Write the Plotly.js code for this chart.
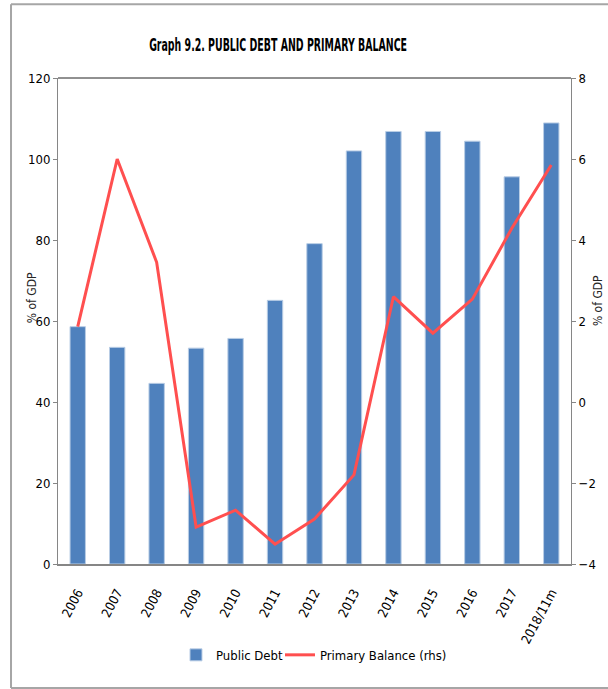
<!DOCTYPE html>
<html>
<head>
<meta charset="utf-8">
<script src="https://cdn.plot.ly/plotly-3.0.1.min.js"></script>
<style>html,body{margin:0;padding:0;background:#fff;}#chart{width:608px;height:689px;}</style>
</head>
<body>
<div id="chart"></div>
<script>
const years = ["2006","2007","2008","2009","2010","2011","2012","2013","2014","2015","2016","2017","2018/11m"];
const publicDebt = [58.6, 53.5, 44.6, 53.3, 55.7, 65.1, 79.1, 102.0, 106.8, 106.8, 104.4, 95.6, 108.9];
const primaryBalance = [1.86, 6.0, 3.45, -3.09, -2.67, -3.51, -2.89, -1.80, 2.60, 1.70, 2.54, 4.29, 5.85];
const leftTicks = [0, 20, 40, 60, 80, 100, 120];
const rightTicks = [-4, -2, 0, 2, 4, 6, 8];

const narrow = "Liberation Sans Narrow, DejaVu Sans Condensed, Arial Narrow, sans-serif";

const traces = [
  {
    type: "bar", name: "Public Debt", x: years, y: publicDebt,
    marker: {color: "#4F81BD", line: {color: "#B9CDE5", width: 1}},
    yaxis: "y", legend: "legend"
  },
  {
    type: "scatter", mode: "lines", name: "Primary Balance (rhs)", x: years, y: primaryBalance,
    line: {color: "#FF4F4F", width: 3},
    yaxis: "y2", legend: "legend2"
  }
];

const legendFont = {family: narrow, size: 13, color: "#000"};

const layout = {
  width: 608, height: 689,
  margin: {l: 58, r: 37, t: 78, b: 125},
  paper_bgcolor: "#fff", plot_bgcolor: "#fff",
  showlegend: true,
  title: {
    text: "<b>Graph 9.2. PUBLIC DEBT AND PRIMARY BALANCE</b>",
    font: {family: narrow, size: 18, color: "#000"},
    xref: "paper", x: 0.429, xanchor: "center",
    yref: "container", y: 0.935, yanchor: "middle"
  },
  bargap: 0.61,
  xaxis: {
    type: "category", tickangle: -62, showgrid: false, zeroline: false,
    showline: true, linecolor: "#868686", linewidth: 2,
    ticks: "", ticklabelstandoff: 14,
    tickfont: {family: narrow, size: 13, color: "#000"}
  },
  yaxis: {
    range: [0, 120], tickvals: leftTicks, showgrid: false, zeroline: false,
    showline: true, linecolor: "#868686", linewidth: 1,
    ticks: "outside", ticklen: 4, tickcolor: "#868686",
    tickfont: {family: narrow, size: 13, color: "#000"}
  },
  yaxis2: {
    range: [-4, 8], tickvals: rightTicks, overlaying: "y", side: "right",
    showgrid: false, zeroline: false,
    showline: true, linecolor: "#868686", linewidth: 1,
    ticks: "outside", ticklen: 4, tickcolor: "#868686",
    tickfont: {family: narrow, size: 13, color: "#000"}
  },
  legend: {
    orientation: "h", x: 0.23, xanchor: "left", y: -0.187, yanchor: "middle",
    font: legendFont, bgcolor: "rgba(0,0,0,0)"
  },
  legend2: {
    orientation: "h", x: 0.4327, xanchor: "left", y: -0.187, yanchor: "middle",
    font: legendFont, bgcolor: "rgba(0,0,0,0)"
  },
  annotations: [
    {text: "% of GDP", xref: "paper", yref: "paper", x: -0.0507, y: 0.549, showarrow: false,
     textangle: -90, font: {family: "DejaVu Sans Condensed, DejaVu Sans, sans-serif", size: 12, color: "#262626"},
     xanchor: "center", yanchor: "middle"},
    {text: "% of GDP", xref: "paper", yref: "paper", x: 1.0526, y: 0.543, showarrow: false,
     textangle: -90, font: {family: "DejaVu Sans Condensed, DejaVu Sans, sans-serif", size: 12, color: "#262626"},
     xanchor: "center", yanchor: "middle"}
  ],
  shapes: [
    {type: "line", xref: "paper", yref: "paper", x0: 0, x1: 1, y0: 1, y1: 1, line: {color: "#222", width: 1}},
    {type: "line", xref: "paper", yref: "paper", x0: -0.0916, x1: -0.0916, y0: -0.255, y1: 1.152, line: {color: "#A6A6A6", width: 2}},
    {type: "line", xref: "paper", yref: "paper", x0: -0.0916, x1: 1.2, y0: 1.152, y1: 1.152, line: {color: "#A6A6A6", width: 2}},
    {type: "line", xref: "paper", yref: "paper", x0: -0.0916, x1: 1.2, y0: -0.255, y1: -0.255, line: {color: "#A6A6A6", width: 2}}
  ]
};

Plotly.newPlot("chart", traces, layout, {displayModeBar: false, responsive: false}).then(function () {
  // Condense the title horizontally to mimic the narrow original typeface
  const t = document.querySelector("#chart .gtitle");
  if (t) {
    const bb = t.getBBox();
    const cx = bb.x + bb.width / 2;
    const s = 258 / bb.width;
    t.setAttribute("transform", "translate(" + cx + ",0) scale(" + s + ",1) translate(" + (-cx) + ",0)");
  }
});
</script>
</body>
</html>
